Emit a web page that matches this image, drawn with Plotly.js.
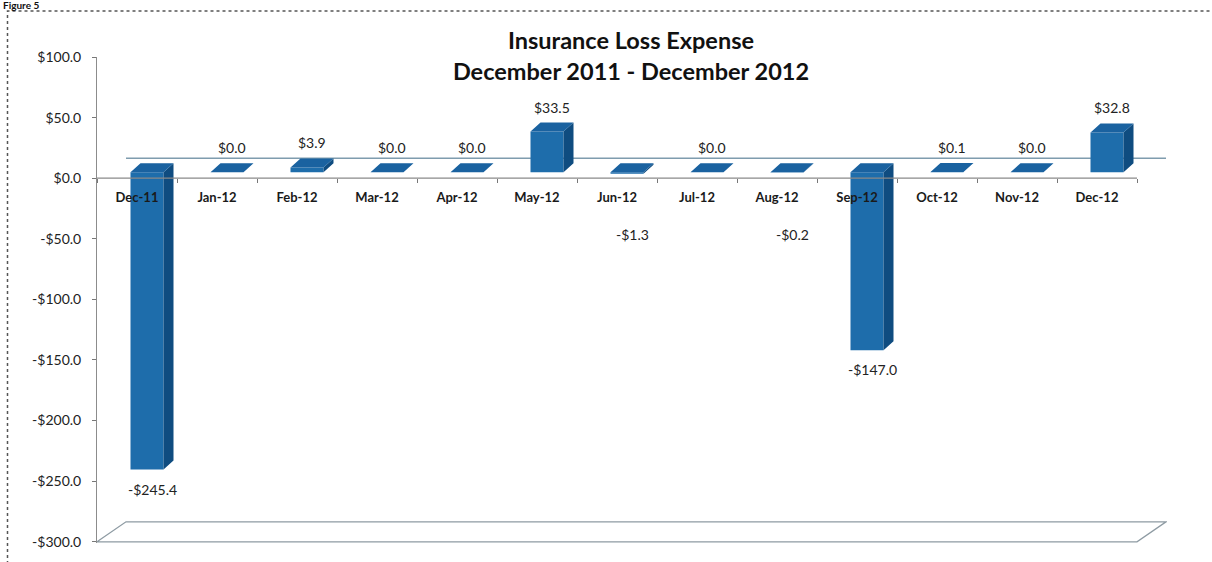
<!DOCTYPE html>
<html><head><meta charset="utf-8">
<script src="https://cdn.plot.ly/plotly-3.0.1.min.js"></script>
<style>html,body{margin:0;padding:0;background:#fff}#chart{width:1212px;height:562px}</style>
</head><body><div id="chart"></div>
<script>
// ---------- data ----------
const categories = ['Dec-11','Jan-12','Feb-12','Mar-12','Apr-12','May-12','Jun-12','Jul-12','Aug-12','Sep-12','Oct-12','Nov-12','Dec-12'];
const lossValues = [-245.4, 0.0, 3.9, 0.0, 0.0, 33.5, -1.3, 0.0, -0.2, -147.0, 0.1, 0.0, 32.8];
const yTickValues = [100, 50, 0, -50, -100, -150, -200, -250, -300];

function money(v){ return (v < 0 ? '-' : '') + '$' + Math.abs(v).toFixed(1); }
const yTickLabels = yTickValues.map(money);
const dataLabels = lossValues.map(money);

// ---------- layout geometry ----------
const W = 1212, H = 562, M = {l: 97, r: 45, t: 57, b: 19};
const Y_MIN = -301, Y_MAX = 100;
const N = categories.length;
const X_MIN = -0.5, X_MAX = N - 0.5 + 0.375;
const plotW = W - M.l - M.r, plotH = H - M.t - M.b;
const pxPerCat = plotW / (X_MAX - X_MIN);
const pxPerUnit = plotH / (Y_MAX - Y_MIN);
const cx = px => px / pxPerCat, cy = px => px / pxPerUnit;

const barW = cx(33), barDX = cx(10), barBase = cy(6), depthX = cx(10), depthY = cy(9);
const wallDX = cx(29), wallDY = cy(20);

const FRONT = '#1e6dab', SIDE = '#0f4c80', TOP = '#1a62a0';
const FONT = 'Lato, "Open Sans", sans-serif';

// ---------- 3D faces computed from values ----------
const sideX = [], sideY = [], topX = [], topY = [];
lossValues.forEach((v, i) => {
  const x0 = i + barDX - barW / 2, x1 = x0 + barW;
  const yb = barBase + Math.min(v, 0), yt = barBase + Math.max(v, 0);
  topX.push(x0, x1, x1 + depthX, x0 + depthX, x0, null);
  topY.push(yt, yt, yt + depthY, yt + depthY, yt, null);
  sideX.push(x1, x1, x1 + depthX, x1 + depthX, x1, null);
  sideY.push(yb, yt, yt + depthY, yb + depthY, yb, null);
});

const traces = [
  {type: 'bar', x: categories, y: lossValues, base: barBase, width: barW, offset: barDX - barW / 2,
   marker: {color: FRONT, line: {width: 0}}, hoverinfo: 'skip', xaxis: 'x', yaxis: 'y'},
  {type: 'scatter', mode: 'lines', x: sideX, y: sideY, fill: 'toself', fillcolor: SIDE,
   line: {width: 0, color: SIDE}, hoverinfo: 'skip', xaxis: 'x2', yaxis: 'y'},
  {type: 'scatter', mode: 'lines', x: topX, y: topY, fill: 'toself', fillcolor: TOP,
   line: {width: 0, color: TOP}, hoverinfo: 'skip', xaxis: 'x2', yaxis: 'y'}
];

// ---------- labels ----------
const LABEL_FONT = {family: FONT, size: 14, color: '#222'};
const annotations = lossValues.map((v, i) => {
  const xc = i + barDX + depthX / 2;
  if (v >= 0) {
    return {xref: 'x2', yref: 'y', x: xc, y: barBase + v + depthY, yanchor: 'bottom', yshift: 5,
            text: dataLabels[i], showarrow: false, font: LABEL_FONT};
  }
  return {xref: 'x2', yref: 'y', x: xc, y: Math.min(barBase + v, -30), yanchor: 'top', yshift: -9,
          text: dataLabels[i], showarrow: false, font: LABEL_FONT};
});
const px2paperX = px => (px - M.l) / plotW;
const px2paperY = py => (H - M.b - py) / plotH;
annotations.push({xref: 'paper', yref: 'paper', x: px2paperX(1), y: px2paperY(5), xanchor: 'left', yanchor: 'middle',
  text: 'Figure 5', showarrow: false, font: {family: FONT, size: 10, weight: 700, color: '#111'}});

// ---------- shapes ----------
const fx0 = X_MIN, fx1 = N - 0.5;
const shapes = [
  {type: 'path', xref: 'x2', yref: 'y', layer: 'below',
   path: `M${fx0},${Y_MIN + 1} L${fx1},${Y_MIN + 1} L${fx1 + wallDX},${Y_MIN + 1 + wallDY} L${fx0 + wallDX},${Y_MIN + 1 + wallDY} Z`,
   line: {color: '#8e9ba3', width: 1.3}, fillcolor: 'rgba(0,0,0,0)'},
  {type: 'line', xref: 'x2', yref: 'y', layer: 'below', x0: fx0 + wallDX, x1: fx1 + wallDX, y0: wallDY, y1: wallDY,
   line: {color: '#7f9cae', width: 1.5}},
  {type: 'line', xref: 'x2', yref: 'y', layer: 'above', x0: fx0, x1: fx1, y0: 0, y1: 0,
   line: {color: '#8a8a8a', width: 1.2}},
  {type: 'path', xref: 'paper', yref: 'paper', layer: 'above',
   path: `M${px2paperX(7.5)},${px2paperY(570)} L${px2paperX(7.5)},${px2paperY(11)} L${px2paperX(1220)},${px2paperY(11)}`,
   line: {color: '#555', width: 1.5, dash: 'dot'}}
];

const layout = {
  width: W, height: H, margin: M, paper_bgcolor: '#fff', plot_bgcolor: '#fff', showlegend: false,
  font: {family: FONT, color: '#222'},
  title: {text: 'Insurance Loss Expense<br>December 2011 - December 2012', xref: 'container', x: 631 / W,
          yref: 'container', y: 1 - 49 / H, yanchor: 'top', font: {family: FONT, size: 23.5, weight: 700, color: '#111'}},
  xaxis: {type: 'category', categoryorder: 'array', categoryarray: categories, range: [X_MIN, X_MAX],
          anchor: 'free', position: (0 - Y_MIN) / (Y_MAX - Y_MIN), tickson: 'boundaries',
          ticks: 'outside', ticklen: 4, tickcolor: '#777', showline: false, showgrid: false, zeroline: false,
          ticklabelstandoff: 10, tickfont: {family: FONT, size: 13, weight: 700, color: '#1a1a1a'}},
  xaxis2: {overlaying: 'x', range: [X_MIN, X_MAX], visible: false, anchor: 'y', type: 'linear'},
  yaxis: {range: [Y_MIN, Y_MAX], tickmode: 'array', tickvals: yTickValues, ticktext: yTickLabels,
          ticks: 'outside', ticklen: 4, tickcolor: '#777', showline: true, linecolor: '#8c8c8c', linewidth: 1,
          zeroline: false, showgrid: false, ticklabelstandoff: 8,
          tickfont: {family: FONT, size: 14, color: '#222'}},
  shapes: shapes,
  annotations: annotations
};

Plotly.newPlot('chart', traces, layout, {staticPlot: true, displayModeBar: false});
</script>
</body></html>
